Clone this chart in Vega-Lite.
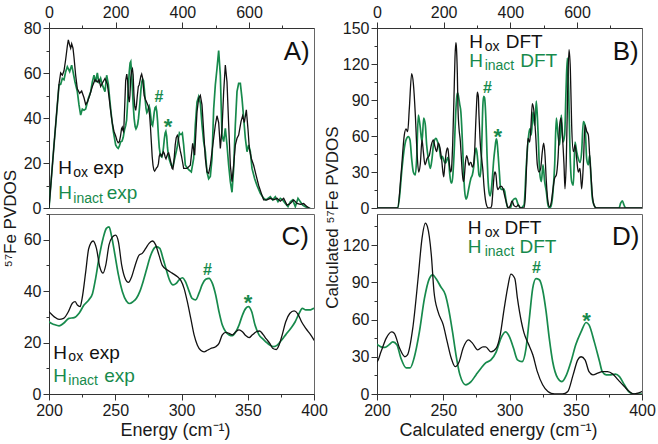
{
"$schema": "https://vega.github.io/schema/vega-lite/v6.json",
"padding": {"left": 0, "top": 3, "right": 2, "bottom": 2},
"config": {
  "font": "Liberation Sans",
  "view": {"stroke": "#666", "strokeWidth": 1},
  "text": {"font": "Liberation Sans"},
  "axis": {"labelFont": "Liberation Sans", "labelFontSize": 16, "labelColor": "#1a1a1a", "titleFont": "Liberation Sans", "titleFontSize": 18, "titleFontWeight": "normal", "titleColor": "#1a1a1a", "domainColor": "#333", "tickColor": "#333", "grid": false, "labelFlush": false, "labelOverlap": false, "labelPadding": 2, "titlePadding": 3}
},
"datasets": {
  "Aox": [{"e":0,"v":0},{"e":15,"v":28},{"e":30,"v":55},{"e":35,"v":60},{"e":40,"v":59},{"e":45,"v":61},{"e":50,"v":66},{"e":55,"v":72},{"e":58,"v":74.7},{"e":62,"v":72.4},{"e":65,"v":71},{"e":68,"v":73},{"e":72,"v":71},{"e":75,"v":67},{"e":80,"v":59},{"e":85,"v":53},{"e":92,"v":51},{"e":98,"v":52},{"e":105,"v":49},{"e":110,"v":46},{"e":115,"v":47},{"e":122,"v":50},{"e":130,"v":54},{"e":138,"v":57},{"e":145,"v":56},{"e":150,"v":57},{"e":155,"v":54},{"e":162,"v":56},{"e":168,"v":57.6},{"e":175,"v":55},{"e":180,"v":49.5},{"e":185,"v":43},{"e":190,"v":37.6},{"e":195,"v":34},
    {"e":200,"v":32},{"e":204,"v":30},{"e":207.6,"v":29},{"e":211,"v":29.4},{"e":214.6,"v":32},{"e":217.6,"v":35.3},{"e":219.7,"v":35.9},{"e":221.4,"v":34.6},{"e":223.5,"v":34},{"e":225,"v":37.2},{"e":227.7,"v":47.5},{"e":230,"v":56.6},{"e":233.3,"v":59.5},{"e":235.8,"v":56.6},{"e":238.3,"v":49.5},{"e":240.8,"v":47},{"e":242.8,"v":50},{"e":245.3,"v":58},{"e":247.8,"v":61},{"e":250.3,"v":61.8},{"e":252.4,"v":59.2},{"e":254.9,"v":50},{"e":257.4,"v":45},{"e":260,"v":43.4},{"e":262.4,"v":45.6},{"e":265,"v":50},{"e":268,"v":54},{"e":270.4,"v":54.7},{"e":273,"v":56.6},{"e":275.5,"v":58.6},{"e":278,"v":59.5},{"e":280.5,"v":58},{"e":283,"v":54},{"e":285.5,"v":50},{"e":289.3,"v":48.2},{"e":293,"v":47},{"e":297,"v":45.6},{"e":299.4,"v":44.3},{"e":302,"v":41},{"e":304.4,"v":35.9},{"e":307,"v":29.4},{"e":309.5,"v":23},{"e":312,"v":19},{"e":314.5,"v":17},{"e":317,"v":16.4},{"e":319.5,"v":17},{"e":322,"v":17.7},{"e":325.8,"v":18.4},{"e":328.3,"v":19.7},{"e":330.8,"v":23},{"e":333.4,"v":24},{"e":335.9,"v":23.6},{"e":338.4,"v":23},{"e":341,"v":24.2},{"e":343.4,"v":24.9},{"e":346,"v":24.2},{"e":348.5,"v":22.7},{"e":351,"v":21.9},{"e":353.5,"v":23},{"e":356.5,"v":24.2},{"e":359,"v":24.5},{"e":361.5,"v":23.2},{"e":364,"v":21.4},{"e":366.6,"v":19.7},{"e":369,"v":17.7},{"e":371.6,"v":17.3},{"e":373.6,"v":19},{"e":376,"v":23},{"e":378.6,"v":28},{"e":381.7,"v":31.3},{"e":385,"v":32.3},{"e":387.6,"v":31.3},{"e":390.7,"v":28},{"e":393.8,"v":25.5},{"e":397.5,"v":23},{"e":400,"v":21},
    {"e":404,"v":17.6},{"e":414,"v":17.6},{"e":424,"v":19},{"e":431,"v":28.7},{"e":437,"v":23.5},{"e":444,"v":42.8},{"e":449,"v":48.7},{"e":454,"v":50},{"e":459,"v":45.8},{"e":464,"v":34},{"e":469,"v":22},{"e":474,"v":16},{"e":479,"v":15.4},{"e":484,"v":19},{"e":489,"v":25},{"e":494,"v":31},{"e":499,"v":36.9},{"e":504,"v":41},{"e":509,"v":38},{"e":514,"v":26.5},{"e":519,"v":35},{"e":524,"v":51.7},{"e":529,"v":63.5},{"e":534,"v":56},{"e":539,"v":37},{"e":544,"v":19},{"e":549,"v":11.7},{"e":554,"v":19},{"e":559,"v":28},{"e":564,"v":31},{"e":569,"v":32.4},{"e":576,"v":38.4},{"e":581,"v":41},{"e":586,"v":38},{"e":592,"v":43.6},{"e":597,"v":35},{"e":601,"v":26.5},{"e":607,"v":22},{"e":614,"v":19},{"e":621,"v":14.7},{"e":629,"v":10},{"e":637,"v":6.5},{"e":644,"v":3.6},{"e":654,"v":3.6},{"e":664,"v":4.3},{"e":674,"v":3.6},{"e":684,"v":4.3},{"e":694,"v":3},{"e":704,"v":4.3},{"e":714,"v":1.3},{"e":724,"v":2},{"e":734,"v":3.6},{"e":744,"v":2},{"e":754,"v":1.6},{"e":764,"v":2},{"e":774,"v":0.6},{"e":781,"v":0}],
  "Ain": [{"e":0,"v":0},{"e":15,"v":28},{"e":30,"v":54.7},{"e":35,"v":55},{"e":40,"v":57.6},{"e":45,"v":57},{"e":50,"v":60.6},{"e":55,"v":62.8},{"e":62,"v":60.6},{"e":68,"v":63.5},{"e":72,"v":60.6},{"e":78,"v":56},{"e":85,"v":51.7},{"e":90,"v":45.8},{"e":95,"v":41.3},{"e":100,"v":44},{"e":105,"v":43.5},{"e":110,"v":44},{"e":118,"v":48.7},{"e":125,"v":51.7},{"e":130,"v":56},{"e":135,"v":59},{"e":140,"v":56},{"e":145,"v":60},{"e":150,"v":55.4},{"e":155,"v":57.6},{"e":160,"v":54.7},{"e":168,"v":51.7},{"e":173,"v":59},{"e":178,"v":55},{"e":183,"v":47},{"e":188,"v":40},{"e":193,"v":34},
    {"e":200,"v":28},{"e":204,"v":27},{"e":207.6,"v":26.5},{"e":211,"v":27.5},{"e":215,"v":29.4},{"e":219,"v":29.7},{"e":222.7,"v":31.4},{"e":226.4,"v":34.6},{"e":230,"v":36.6},{"e":232.8,"v":39},{"e":235.2,"v":45},{"e":237.7,"v":52.8},{"e":240.8,"v":60.5},{"e":243.3,"v":64.4},{"e":245.3,"v":65},{"e":247.3,"v":61.2},{"e":249.8,"v":54},{"e":252.4,"v":46.3},{"e":255.4,"v":39.8},{"e":258.4,"v":36.2},{"e":260.9,"v":35.2},{"e":263.4,"v":35.9},{"e":266,"v":37.2},{"e":268.5,"v":39.8},{"e":271,"v":43.7},{"e":273.5,"v":48.2},{"e":276,"v":52.8},{"e":278.5,"v":56},{"e":281,"v":57.3},{"e":283.6,"v":56.6},{"e":286,"v":52.8},{"e":288.6,"v":48.2},{"e":291,"v":44.3},{"e":293.6,"v":42.4},{"e":296,"v":43},{"e":298,"v":44.3},{"e":300.6,"v":45.2},{"e":303,"v":43.7},{"e":305.7,"v":40},{"e":308,"v":37.2},{"e":310.7,"v":36.6},{"e":313.2,"v":39.2},{"e":315.7,"v":42.6},{"e":318.3,"v":44.6},{"e":320.8,"v":45},{"e":323.3,"v":43},{"e":325.8,"v":38.5},{"e":328.3,"v":32},{"e":330.8,"v":26.8},{"e":333.4,"v":24.2},{"e":335.9,"v":23},{"e":338.4,"v":22.7},{"e":341,"v":24.2},{"e":343.4,"v":26.8},{"e":346,"v":30.7},{"e":348.5,"v":33.3},{"e":350.5,"v":34},{"e":353,"v":32},{"e":355.5,"v":26.8},{"e":358.5,"v":23},{"e":361,"v":21.6},{"e":363.6,"v":20.3},{"e":366.6,"v":19},{"e":369.6,"v":18.4},{"e":372.3,"v":19},{"e":375.6,"v":21},{"e":378.6,"v":23},{"e":382.4,"v":25.5},{"e":385.7,"v":28},{"e":388.7,"v":31.3},{"e":391.2,"v":33.3},{"e":393.8,"v":32.7},{"e":396.8,"v":32.7},{"e":400,"v":33.3},
    {"e":404,"v":28},{"e":409,"v":19},{"e":419,"v":17},{"e":427,"v":16},{"e":434,"v":22},{"e":439,"v":37},{"e":444,"v":47},{"e":449,"v":49.5},{"e":454,"v":46.7},{"e":459,"v":37},{"e":464,"v":29.5},{"e":469,"v":25},{"e":474,"v":16},{"e":479,"v":13},{"e":484,"v":14},{"e":489,"v":22},{"e":494,"v":44},{"e":499,"v":54.7},{"e":504,"v":62},{"e":509,"v":70},{"e":514,"v":59},{"e":519,"v":32.4},{"e":524,"v":29.5},{"e":529,"v":35.4},{"e":534,"v":28},{"e":539,"v":19},{"e":544,"v":11.7},{"e":549,"v":7},{"e":554,"v":17.6},{"e":559,"v":37},{"e":564,"v":51.7},{"e":569,"v":55.4},{"e":574,"v":55.4},{"e":579,"v":48.7},{"e":584,"v":40},{"e":589,"v":31},{"e":594,"v":25},{"e":599,"v":28},{"e":604,"v":25},{"e":609,"v":17.6},{"e":617,"v":13},{"e":624,"v":10},{"e":634,"v":6.5},{"e":644,"v":4.3},{"e":651,"v":3.6},{"e":657,"v":4.3},{"e":664,"v":5},{"e":671,"v":3.6},{"e":679,"v":5},{"e":687,"v":2.8},{"e":694,"v":4.3},{"e":701,"v":3.6},{"e":709,"v":2},{"e":717,"v":0.6},{"e":724,"v":2.8},{"e":731,"v":3.6},{"e":739,"v":0.6},{"e":747,"v":4.3},{"e":754,"v":2.8},{"e":761,"v":1.3},{"e":769,"v":0.6},{"e":777,"v":0},{"e":784,"v":0}],
  "Box": [{"e":0,"v":0},{"e":62,"v":0},{"e":72,"v":27.5},{"e":82,"v":61},{"e":87,"v":66},{"e":92,"v":63.6},{"e":97,"v":83},{"e":104,"v":112},{"e":109,"v":104},{"e":115,"v":77.5},{"e":120,"v":47},{"e":125,"v":30},{"e":130,"v":37},{"e":135,"v":56.7},{"e":139,"v":47},{"e":144,"v":36},{"e":150,"v":41},{"e":157,"v":44},{"e":163,"v":52.5},{"e":169,"v":56.7},{"e":174,"v":51},{"e":179,"v":47},{"e":184,"v":54},{"e":189,"v":50},{"e":194,"v":40},
    {"e":200,"v":26},{"e":203,"v":34},{"e":207,"v":45},{"e":211,"v":50},{"e":213,"v":49},{"e":217,"v":37},{"e":221,"v":30},{"e":223,"v":31.5},{"e":227,"v":53},{"e":231,"v":93},{"e":234,"v":125.6},{"e":236.5,"v":137.7},{"e":238,"v":135},{"e":241,"v":112},{"e":243,"v":82.6},{"e":246,"v":66.5},{"e":250,"v":55.7},{"e":253,"v":42},{"e":256,"v":29},{"e":259,"v":22},{"e":262,"v":26},{"e":265,"v":37},{"e":269,"v":43.6},{"e":272,"v":41},{"e":276,"v":35.6},{"e":280,"v":38},{"e":282,"v":38},{"e":286,"v":34},{"e":290,"v":37},{"e":293,"v":47.7},{"e":296,"v":69},{"e":299,"v":88},{"e":301,"v":96.6},{"e":304,"v":93},{"e":306,"v":77},{"e":309,"v":58},{"e":311,"v":49},{"e":314,"v":41},{"e":317.6,"v":31.6},{"e":321,"v":18},{"e":325,"v":7.4},{"e":329,"v":2},{"e":334,"v":0},{"e":340,"v":0},{"e":344,"v":2},{"e":348,"v":15.4},{"e":351.5,"v":27.5},{"e":354,"v":30},{"e":357,"v":27.5},{"e":360,"v":18},{"e":363,"v":15.4},{"e":366.6,"v":16.8},{"e":370,"v":18},{"e":374,"v":18},{"e":378,"v":16},{"e":382,"v":11.4},{"e":386.7,"v":6},{"e":390.5,"v":2},{"e":394,"v":0},{"e":397,"v":0.7},{"e":400,"v":2},
    {"e":405,"v":6},{"e":411,"v":2},{"e":418,"v":1},{"e":424,"v":2.5},{"e":431,"v":0},{"e":441,"v":0},{"e":445,"v":10},{"e":448,"v":30},{"e":453,"v":58},{"e":458,"v":55},{"e":462,"v":69},{"e":466,"v":87},{"e":471,"v":80},{"e":476,"v":61},{"e":481,"v":36},{"e":486,"v":30},{"e":491,"v":33},{"e":496,"v":47},{"e":500,"v":54},{"e":504,"v":44},{"e":508,"v":22},{"e":513,"v":5},{"e":518,"v":1},{"e":523,"v":5},{"e":528,"v":16},{"e":533,"v":25},{"e":538,"v":27.5},{"e":543,"v":41},{"e":548,"v":69},{"e":552,"v":75},{"e":556,"v":61},{"e":561,"v":36},{"e":564,"v":16},{"e":568,"v":41},{"e":572,"v":97},{"e":576,"v":132},{"e":580,"v":116},{"e":584,"v":69},{"e":589,"v":47},{"e":594,"v":52.5},{"e":599,"v":41},{"e":604,"v":30},{"e":609,"v":33},{"e":614,"v":16},{"e":619,"v":36},{"e":624,"v":69},{"e":629,"v":64},{"e":634,"v":61},{"e":638,"v":44},{"e":642,"v":27.5},{"e":646,"v":11},{"e":651,"v":2.5},{"e":658,"v":0},{"e":795,"v":0}],
  "Bin": [{"e":0,"v":0},{"e":62,"v":0},{"e":67,"v":8},{"e":75,"v":33},{"e":82,"v":50},{"e":87,"v":56.7},{"e":94,"v":59.4},{"e":99,"v":56.7},{"e":104,"v":41},{"e":109,"v":30},{"e":115,"v":27.5},{"e":119,"v":41},{"e":124,"v":77.5},{"e":129,"v":69},{"e":135,"v":55},{"e":140,"v":75},{"e":145,"v":69},{"e":149,"v":52.5},{"e":154,"v":41},{"e":160,"v":33},{"e":165,"v":41},{"e":170,"v":54},{"e":177,"v":58},{"e":182,"v":55},{"e":187,"v":50},{"e":192,"v":41},{"e":196,"v":43},
    {"e":200,"v":40},{"e":203,"v":38},{"e":206,"v":37.5},{"e":209,"v":39.6},{"e":212,"v":42},{"e":215,"v":39.6},{"e":218,"v":29},{"e":222,"v":21},{"e":225,"v":21},{"e":228,"v":29},{"e":232,"v":50},{"e":235.8,"v":77},{"e":239.5,"v":93},{"e":242,"v":96},{"e":244.5,"v":93},{"e":248,"v":86.6},{"e":251.6,"v":80},{"e":254,"v":69},{"e":257,"v":50},{"e":259.6,"v":31.6},{"e":262.6,"v":15.4},{"e":267,"v":7.4},{"e":271,"v":10},{"e":274.7,"v":15.4},{"e":278.5,"v":20.8},{"e":282,"v":25},{"e":286,"v":27.5},{"e":290,"v":34},{"e":293.6,"v":45},{"e":296.9,"v":50},{"e":300,"v":46},{"e":303,"v":37},{"e":306,"v":27.5},{"e":309.5,"v":26},{"e":312.5,"v":37},{"e":315,"v":61},{"e":317.5,"v":85},{"e":320,"v":93},{"e":322.5,"v":92},{"e":325,"v":84},{"e":327.6,"v":66.5},{"e":330,"v":45},{"e":332.6,"v":26},{"e":336.4,"v":12.8},{"e":339.6,"v":10},{"e":343,"v":15.4},{"e":346.4,"v":26},{"e":350,"v":39.6},{"e":354,"v":50},{"e":357.8,"v":57.6},{"e":360,"v":55.7},{"e":364,"v":42},{"e":368,"v":26},{"e":370,"v":18},{"e":373,"v":15.4},{"e":376.6,"v":15.4},{"e":380,"v":16},{"e":383,"v":14},{"e":386.7,"v":7.4},{"e":390,"v":2},{"e":394,"v":0},{"e":400,"v":0},
    {"e":408,"v":6.7},{"e":416,"v":8},{"e":424,"v":2.5},{"e":431,"v":0},{"e":441,"v":2.5},{"e":448,"v":36},{"e":453,"v":55},{"e":458,"v":66},{"e":463,"v":61},{"e":468,"v":80},{"e":473,"v":69},{"e":478,"v":89},{"e":483,"v":64},{"e":488,"v":30},{"e":493,"v":22},{"e":498,"v":36},{"e":503,"v":22},{"e":508,"v":13.6},{"e":513,"v":2.5},{"e":518,"v":0},{"e":523,"v":2.5},{"e":528,"v":13.6},{"e":533,"v":36},{"e":538,"v":75},{"e":543,"v":61},{"e":548,"v":52.5},{"e":553,"v":77.5},{"e":558,"v":55},{"e":563,"v":61},{"e":567,"v":97},{"e":571,"v":125},{"e":575,"v":97},{"e":579,"v":47},{"e":584,"v":22},{"e":589,"v":19},{"e":594,"v":55},{"e":599,"v":47},{"e":604,"v":41},{"e":609,"v":38},{"e":614,"v":47},{"e":619,"v":72},{"e":624,"v":69},{"e":629,"v":41},{"e":634,"v":36},{"e":638,"v":44},{"e":642,"v":25},{"e":646,"v":8},{"e":651,"v":2.5},{"e":658,"v":0},{"e":726,"v":0},{"e":731,"v":4},{"e":736,"v":6},{"e":741,"v":2.5},{"e":746,"v":0},{"e":795,"v":0}]
},
"bounds": "flush",
"columns": 2,
"spacing": {"row": 6, "column": 63},
"concat": [
 {
  "width": 265, "height": 180,
  "encoding": {
    "x": {"field": "e", "type": "quantitative", "scale": {"domain": [0, 795], "nice": false, "zero": false}, "axis": {"orient": "top", "title": null, "values": [0,100,200,300,400,500,600,700], "labelExpr": "datum.value % 200 === 0 ? datum.label : ''", "tickSize": {"condition": {"test": "datum.value % 200 === 0", "value": 6}, "value": 3}}},
    "y": {"field": "v", "type": "quantitative", "scale": {"domain": [0, 80], "nice": false, "zero": false}, "axis": {"values": [0,10,20,30,40,50,60,70,80], "labelExpr": "datum.value % 20 === 0 ? datum.label : ''", "tickSize": {"condition": {"test": "datum.value % 20 === 0", "value": 6}, "value": 3}, "title": "⁵⁷Fe PVDOS", "titleFontSize": 17, "titleX": -30, "titleY": 190}}
  },
  "layer": [
    {"data": {"name": "Ain"}, "mark": {"type": "line", "color": "#178a4c", "strokeWidth": 1.7, "clip": true}},
    {"data": {"name": "Aox"}, "mark": {"type": "line", "color": "#111111", "strokeWidth": 1.3, "clip": true}},
    {"data": {"values": [{"e":27.6,"v":14.9,"t":"H","c":"ox"},{"e":132.6,"v":14.9,"t":"exp","c":"ox"},{"e":27.6,"v":3.8,"t":"H","c":"in"},{"e":173,"v":3.8,"t":"exp","c":"in"}]}, "mark": {"type": "text", "fontSize": 19, "align": "left", "baseline": "alphabetic"}, "encoding": {"text": {"field": "t"}, "color": {"field": "c", "type": "nominal", "scale": {"domain": ["ox", "in"], "range": ["#111111", "#178a4c"]}, "legend": null}}},
    {"data": {"values": [{"e":73,"v":13.6,"t":"ox","c":"ox"},{"e":73,"v":2.2,"t":"inact","c":"in"}]}, "mark": {"type": "text", "fontSize": 14, "align": "left", "baseline": "alphabetic"}, "encoding": {"text": {"field": "t"}, "color": {"field": "c", "type": "nominal", "scale": {"domain": ["ox", "in"], "range": ["#111111", "#178a4c"]}, "legend": null}}},
    {"data": {"values": [{"e":330,"v":46.9,"t":"#"}]}, "mark": {"type": "text", "fontSize": 16, "fontWeight": "bold", "align": "center", "baseline": "alphabetic", "color": "#178a4c"}, "encoding": {"text": {"field": "t"}}},
    {"data": {"values": [{"e":357,"v":32.9,"t":"*"}]}, "mark": {"type": "text", "fontSize": 22, "fontWeight": "bold", "align": "center", "baseline": "alphabetic", "color": "#178a4c"}, "encoding": {"text": {"field": "t"}}},
    {"data": {"values": [{"e":782,"v":65.8,"t":"A)"}]}, "mark": {"type": "text", "fontSize": 26, "align": "right", "baseline": "alphabetic", "color": "#111111"}, "encoding": {"text": {"field": "t"}}}
  ]
 },
 {
  "width": 265, "height": 180,
  "encoding": {
    "x": {"field": "e", "type": "quantitative", "scale": {"domain": [0, 795], "nice": false, "zero": false}, "axis": {"orient": "top", "title": null, "values": [0,100,200,300,400,500,600,700], "labelExpr": "datum.value % 200 === 0 ? datum.label : ''", "tickSize": {"condition": {"test": "datum.value % 200 === 0", "value": 6}, "value": 3}}},
    "y": {"field": "v", "type": "quantitative", "scale": {"domain": [0, 150], "nice": false, "zero": false}, "axis": {"values": [0,15,30,45,60,75,90,105,120,135,150], "labelExpr": "datum.value % 30 === 0 ? datum.label : ''", "tickSize": {"condition": {"test": "datum.value % 30 === 0", "value": 6}, "value": 3}, "title": "Calculated ⁵⁷Fe PVDOS", "titleFontSize": 17, "titleX": -36, "titleY": 189}}
  },
  "layer": [
    {"data": {"name": "Bin"}, "mark": {"type": "line", "color": "#178a4c", "strokeWidth": 1.7, "clip": true, "interpolate": "monotone"}},
    {"data": {"name": "Box"}, "mark": {"type": "line", "color": "#111111", "strokeWidth": 1.3, "clip": true, "interpolate": "monotone"}},
    {"data": {"values": [{"e":276.6,"v":133.7,"t":"H","c":"ox"},{"e":386,"v":133.7,"t":"DFT","c":"ox"},{"e":276.6,"v":117.5,"t":"H","c":"in"},{"e":429.6,"v":117.5,"t":"DFT","c":"in"}]}, "mark": {"type": "text", "fontSize": 19, "align": "left", "baseline": "alphabetic"}, "encoding": {"text": {"field": "t"}, "color": {"field": "c", "type": "nominal", "scale": {"domain": ["ox", "in"], "range": ["#111111", "#178a4c"]}, "legend": null}}},
    {"data": {"values": [{"e":323,"v":131.2,"t":"ox","c":"ox"},{"e":323,"v":114.6,"t":"inact","c":"in"}]}, "mark": {"type": "text", "fontSize": 14, "align": "left", "baseline": "alphabetic"}, "encoding": {"text": {"field": "t"}, "color": {"field": "c", "type": "nominal", "scale": {"domain": ["ox", "in"], "range": ["#111111", "#178a4c"]}, "legend": null}}},
    {"data": {"values": [{"e":331,"v":96,"t":"#"}]}, "mark": {"type": "text", "fontSize": 16, "fontWeight": "bold", "align": "center", "baseline": "alphabetic", "color": "#178a4c"}, "encoding": {"text": {"field": "t"}}},
    {"data": {"values": [{"e":362,"v":53.6,"t":"*"}]}, "mark": {"type": "text", "fontSize": 22, "fontWeight": "bold", "align": "center", "baseline": "alphabetic", "color": "#178a4c"}, "encoding": {"text": {"field": "t"}}},
    {"data": {"values": [{"e":785,"v":123.3,"t":"B)"}]}, "mark": {"type": "text", "fontSize": 26, "align": "right", "baseline": "alphabetic", "color": "#111111"}, "encoding": {"text": {"field": "t"}}}
  ]
 },
 {
  "width": 265, "height": 180,
  "encoding": {
    "x": {"field": "e", "type": "quantitative", "scale": {"domain": [200, 400], "nice": false, "zero": false}, "axis": {"title": "Energy (cm⁻¹)", "titleX": 126, "values": [200,225,250,275,300,325,350,375,400], "labelExpr": "datum.value % 50 === 0 ? datum.label : ''", "tickSize": {"condition": {"test": "datum.value % 50 === 0", "value": 6}, "value": 3}}},
    "y": {"field": "v", "type": "quantitative", "scale": {"domain": [0, 70], "nice": false, "zero": false}, "axis": {"values": [0,10,20,30,40,50,60,70], "labelExpr": "datum.value % 20 === 0 ? datum.label : ''", "tickSize": {"condition": {"test": "datum.value % 20 === 0", "value": 6}, "value": 3}, "title": null}}
  },
  "layer": [
    {"data": {"name": "Ain"}, "mark": {"type": "line", "color": "#178a4c", "strokeWidth": 1.7, "clip": true, "interpolate": "monotone"}},
    {"data": {"name": "Aox"}, "mark": {"type": "line", "color": "#111111", "strokeWidth": 1.3, "clip": true, "interpolate": "monotone"}},
    {"data": {"values": [{"e":203.2,"v":13.8,"t":"H","c":"ox"},{"e":230.3,"v":13.8,"t":"exp","c":"ox"},{"e":203.2,"v":4.8,"t":"H","c":"in"},{"e":241.7,"v":4.8,"t":"exp","c":"in"}]}, "mark": {"type": "text", "fontSize": 19, "align": "left", "baseline": "alphabetic"}, "encoding": {"text": {"field": "t"}, "color": {"field": "c", "type": "nominal", "scale": {"domain": ["ox", "in"], "range": ["#111111", "#178a4c"]}, "legend": null}}},
    {"data": {"values": [{"e":214.6,"v":12.8,"t":"ox","c":"ox"},{"e":214.6,"v":3.4,"t":"inact","c":"in"}]}, "mark": {"type": "text", "fontSize": 14, "align": "left", "baseline": "alphabetic"}, "encoding": {"text": {"field": "t"}, "color": {"field": "c", "type": "nominal", "scale": {"domain": ["ox", "in"], "range": ["#111111", "#178a4c"]}, "legend": null}}},
    {"data": {"values": [{"e":319.5,"v":46.3,"t":"#"}]}, "mark": {"type": "text", "fontSize": 16, "fontWeight": "bold", "align": "center", "baseline": "alphabetic", "color": "#178a4c"}, "encoding": {"text": {"field": "t"}}},
    {"data": {"values": [{"e":350.3,"v":32.5,"t":"*"}]}, "mark": {"type": "text", "fontSize": 22, "fontWeight": "bold", "align": "center", "baseline": "alphabetic", "color": "#178a4c"}, "encoding": {"text": {"field": "t"}}},
    {"data": {"values": [{"e":396.2,"v":58,"t":"C)"}]}, "mark": {"type": "text", "fontSize": 26, "align": "right", "baseline": "alphabetic", "color": "#111111"}, "encoding": {"text": {"field": "t"}}}
  ]
 },
 {
  "width": 265, "height": 180,
  "encoding": {
    "x": {"field": "e", "type": "quantitative", "scale": {"domain": [200, 400], "nice": false, "zero": false}, "axis": {"title": "Calculated energy (cm⁻¹)", "titleX": 121, "values": [200,225,250,275,300,325,350,375,400], "labelExpr": "datum.value % 50 === 0 ? datum.label : ''", "tickSize": {"condition": {"test": "datum.value % 50 === 0", "value": 6}, "value": 3}}},
    "y": {"field": "v", "type": "quantitative", "scale": {"domain": [0, 145], "nice": false, "zero": false}, "axis": {"values": [0,15,30,45,60,75,90,105,120,135], "labelExpr": "datum.value % 30 === 0 ? datum.label : ''", "tickSize": {"condition": {"test": "datum.value % 30 === 0", "value": 6}, "value": 3}, "title": null}}
  },
  "layer": [
    {"data": {"name": "Bin"}, "mark": {"type": "line", "color": "#178a4c", "strokeWidth": 1.7, "clip": true, "interpolate": "monotone"}},
    {"data": {"name": "Box"}, "mark": {"type": "line", "color": "#111111", "strokeWidth": 1.3, "clip": true, "interpolate": "monotone"}},
    {"data": {"values": [{"e":268.5,"v":129,"t":"H","c":"ox"},{"e":296.2,"v":129,"t":"DFT","c":"ox"},{"e":268.5,"v":113.5,"t":"H","c":"in"},{"e":307.5,"v":113.5,"t":"DFT","c":"in"}]}, "mark": {"type": "text", "fontSize": 19, "align": "left", "baseline": "alphabetic"}, "encoding": {"text": {"field": "t"}, "color": {"field": "c", "type": "nominal", "scale": {"domain": ["ox", "in"], "range": ["#111111", "#178a4c"]}, "legend": null}}},
    {"data": {"values": [{"e":281.3,"v":126.6,"t":"ox","c":"ox"},{"e":281.3,"v":110.8,"t":"inact","c":"in"}]}, "mark": {"type": "text", "fontSize": 14, "align": "left", "baseline": "alphabetic"}, "encoding": {"text": {"field": "t"}, "color": {"field": "c", "type": "nominal", "scale": {"domain": ["ox", "in"], "range": ["#111111", "#178a4c"]}, "legend": null}}},
    {"data": {"values": [{"e":320.4,"v":97.5,"t":"#"}]}, "mark": {"type": "text", "fontSize": 16, "fontWeight": "bold", "align": "center", "baseline": "alphabetic", "color": "#178a4c"}, "encoding": {"text": {"field": "t"}}},
    {"data": {"values": [{"e":358.1,"v":52.9,"t":"*"}]}, "mark": {"type": "text", "fontSize": 22, "fontWeight": "bold", "align": "center", "baseline": "alphabetic", "color": "#178a4c"}, "encoding": {"text": {"field": "t"}}},
    {"data": {"values": [{"e":398,"v":119.7,"t":"D)"}]}, "mark": {"type": "text", "fontSize": 26, "align": "right", "baseline": "alphabetic", "color": "#111111"}, "encoding": {"text": {"field": "t"}}}
  ]
 }
]
}
